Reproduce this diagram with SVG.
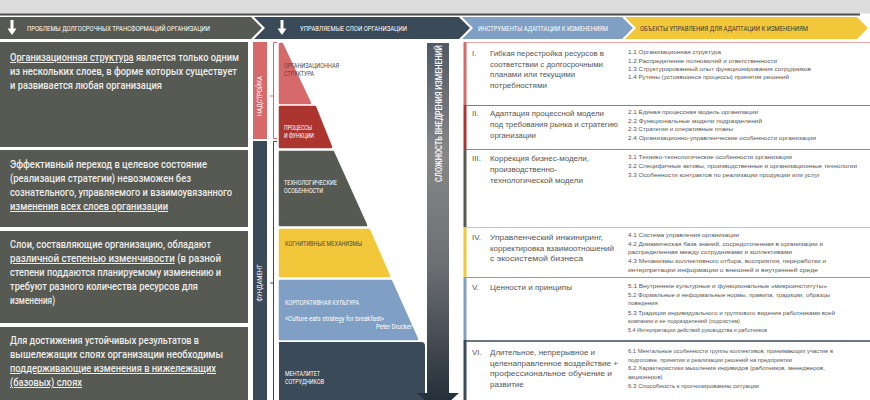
<svg xmlns="http://www.w3.org/2000/svg" xmlns:xlink="http://www.w3.org/1999/xlink" width="870" height="400" viewBox="0 0 870 400">
<defs>
<style>
.hd{font-family:Roboto,"Liberation Sans",sans-serif;font-size:7.5px;}
.lt{font-family:Roboto,"Liberation Sans",sans-serif;font-size:10px;fill:#ececec;font-weight:500;}
.u{text-decoration:underline;}
.py{font-family:Roboto,"Liberation Sans",sans-serif;font-size:6.5px;}
.rm{font-family:"Liberation Sans",Arial,sans-serif;font-size:8px;fill:#555;}
.rs{font-family:"Liberation Sans",Arial,sans-serif;font-size:6px;fill:#555;}
.vt{font-family:Roboto,"Liberation Sans",sans-serif;font-size:6.5px;fill:#fff;}
</style>
<path id="darr" d="M-1.5,-8 h3 v8.5 h3 l-4.5,6.5 l-4.5,-6.5 h3 z" fill="#fff"/>
<linearGradient id="cg" x1="0" y1="0" x2="0" y2="1">
<stop offset="0" stop-color="#4e5a66"/>
<stop offset="0.3" stop-color="#878787"/>
<stop offset="0.6" stop-color="#6c6f72"/>
<stop offset="1" stop-color="#1f2a35"/>
</linearGradient>
</defs>
<rect x="0" y="0" width="870" height="400" fill="#fff"/>
<rect x="0" y="0" width="870" height="13.5" fill="#dcdcdc"/>
<rect x="0" y="13.5" width="860" height="2" fill="#4a4a4a"/>

<g id="header">
<polygon points="0,17 251,17 262,28 251,39 0,39" fill="#575a52"/>
<polygon points="254,17 459,17 470,28 459,39 254,39 265,28" fill="#3a4a58"/>
<polygon points="462,17 622,17 633,28 622,39 462,39 473,28" fill="#7f9fc4"/>
<polygon points="625,17 857,17 868,28 857,39 625,39 636,28" fill="#f2c73a"/>
<use xlink:href="#darr" x="12" y="28"/>
<use xlink:href="#darr" x="282" y="28"/>
<text class="hd" x="27" y="30.5" fill="#fff" textLength="183" lengthAdjust="spacingAndGlyphs">ПРОБЛЕМЫ ДОЛГОСРОЧНЫХ ТРАНСФОРМАЦИЙ ОРГАНИЗАЦИИ</text>
<text class="hd" x="300" y="30.5" fill="#fff" textLength="107" lengthAdjust="spacingAndGlyphs">УПРАВЛЯЕМЫЕ СЛОИ ОРГАНИЗАЦИИ</text>
<text class="hd" x="478" y="30.5" fill="#fff" textLength="130" lengthAdjust="spacingAndGlyphs">ИНСТРУМЕНТЫ АДАПТАЦИИ К ИЗМЕНЕНИЯМ</text>
<text class="hd" x="640" y="30.5" fill="#3a3a3a" textLength="168" lengthAdjust="spacingAndGlyphs">ОБЪЕКТЫ УПРАВЛЕНИЯ ДЛЯ АДАПТАЦИИ К ИЗМЕНЕНИЯМ</text>
</g>

<g id="problem-1">
<rect x="0" y="42" width="248" height="105" fill="#575a52"/>
<text class="lt" x="10" y="61" textLength="229" lengthAdjust="spacingAndGlyphs"><tspan class="u">Организационная структура</tspan> является только одним</text>
<text class="lt" x="10" y="75" textLength="227" lengthAdjust="spacingAndGlyphs">из нескольких слоев, в форме которых существует</text>
<text class="lt" x="10" y="88.5" textLength="152" lengthAdjust="spacingAndGlyphs">и развивается любая организация</text>
</g>
<g id="problem-2">
<rect x="0" y="150" width="248" height="77" fill="#575a52"/>
<text class="lt" x="10" y="168" textLength="197" lengthAdjust="spacingAndGlyphs">Эффективный переход в целевое состояние</text>
<text class="lt" x="10" y="182" textLength="181" lengthAdjust="spacingAndGlyphs">(реализация стратегии) невозможен без</text>
<text class="lt" x="10" y="196" textLength="222" lengthAdjust="spacingAndGlyphs">сознательного, управляемого и взаимоувязанного</text>
<text class="lt u" x="10" y="210" textLength="158" lengthAdjust="spacingAndGlyphs">изменения всех слоев организации</text>
</g>
<g id="problem-3">
<rect x="0" y="231" width="248" height="92" fill="#575a52"/>
<text class="lt" x="10" y="248" textLength="201" lengthAdjust="spacingAndGlyphs">Слои, составляющие организацию, обладают</text>
<text class="lt" x="10" y="262" textLength="211" lengthAdjust="spacingAndGlyphs"><tspan class="u">различной степенью изменчивости</tspan> (в разной</text>
<text class="lt" x="10" y="276" textLength="211" lengthAdjust="spacingAndGlyphs">степени поддаются планируемому изменению и</text>
<text class="lt" x="10" y="290" textLength="188" lengthAdjust="spacingAndGlyphs">требуют разного количества ресурсов для</text>
<text class="lt" x="10" y="304" textLength="45" lengthAdjust="spacingAndGlyphs">изменения)</text>
</g>
<g id="problem-4">
<rect x="0" y="327" width="248" height="73" fill="#575a52"/>
<text class="lt" x="10" y="344" textLength="189" lengthAdjust="spacingAndGlyphs">Для достижения устойчивых результатов в</text>
<text class="lt" x="10" y="358" textLength="213" lengthAdjust="spacingAndGlyphs">вышележащих слоях организации необходимы</text>
<text class="lt u" x="10" y="372" textLength="206" lengthAdjust="spacingAndGlyphs">поддерживающие изменения в нижележащих</text>
<text class="lt u" x="10" y="386" textLength="72" lengthAdjust="spacingAndGlyphs">(базовых) слоях</text>
</g>

<g id="superstructure">
<rect x="253" y="42" width="14" height="97" fill="#d66a6a"/>
<text class="vt" transform="translate(262.3,116) rotate(-90)" textLength="40" lengthAdjust="spacingAndGlyphs">НАДСТРОЙКА</text>
<path d="M277,42.5 H273.5 V138.5 H277 M273.5,96 H270" fill="none" stroke="#d66a6a" stroke-width="1"/>
</g>
<g id="foundation">
<rect x="253" y="141" width="14" height="259" fill="#3a4a58"/>
<text class="vt" transform="translate(262.3,301.5) rotate(-90)" textLength="37" lengthAdjust="spacingAndGlyphs">ФУНДАМЕНТ</text>
<path d="M277,141.5 H273.5 V400 M273.5,283 H270" fill="none" stroke="#3a4a58" stroke-width="1"/>
</g>

<g id="layer-structure">
<polygon points="280,44 282,44 310,103 280,103" fill="#d66a6a" stroke="#d66a6a" stroke-width="2.5" stroke-linejoin="round"/>
<text class="py" fill="#4a4a4a" x="284" y="68" textLength="55" lengthAdjust="spacingAndGlyphs">ОРГАНИЗАЦИОННАЯ</text>
<text class="py" fill="#4a4a4a" x="284" y="76" textLength="30" lengthAdjust="spacingAndGlyphs">СТРУКТУРА</text>
</g>
<g id="layer-processes">
<polygon points="280,107 315,107 331,147 280,147" fill="#ad3530" stroke="#ad3530" stroke-width="2.5" stroke-linejoin="round"/>
<text class="py" fill="#fff" x="284" y="129.5" textLength="28" lengthAdjust="spacingAndGlyphs">ПРОЦЕССЫ</text>
<text class="py" fill="#fff" x="284" y="137.5" textLength="30" lengthAdjust="spacingAndGlyphs">И ФУНКЦИИ</text>
</g>
<g id="layer-technology">
<polygon points="280,152 333,152 366,225 280,225" fill="#575a52" stroke="#575a52" stroke-width="2.5" stroke-linejoin="round"/>
<text class="py" fill="#fff" x="284" y="184.5" textLength="53" lengthAdjust="spacingAndGlyphs">ТЕХНОЛОГИЧЕСКИЕ</text>
<text class="py" fill="#fff" x="284" y="192.5" textLength="39" lengthAdjust="spacingAndGlyphs">ОСОБЕННОСТИ</text>
</g>
<g id="layer-cognitive">
<polygon points="280,230 369,230 389,276 280,276" fill="#f2c73a" stroke="#f2c73a" stroke-width="2.5" stroke-linejoin="round"/>
<text class="py" fill="#4a4a4a" x="285" y="245.5" textLength="77" lengthAdjust="spacingAndGlyphs">КОГНИТИВНЫЕ МЕХАНИЗМЫ</text>
</g>
<g id="layer-culture">
<polygon points="280,281 391,281 417,339 280,339" fill="#7f9fc4" stroke="#7f9fc4" stroke-width="2.5" stroke-linejoin="round"/>
<text class="py" fill="#fff" x="285" y="304.5" textLength="74" lengthAdjust="spacingAndGlyphs">КОРПОРАТИВНАЯ КУЛЬТУРА</text>
<text class="py" fill="#fff" x="285" y="320.5" textLength="99" lengthAdjust="spacingAndGlyphs">«Culture eats strategy for breakfast»</text>
<text class="py" fill="#fff" x="376" y="328.5" textLength="36" lengthAdjust="spacingAndGlyphs">Peter Drucker</text>
</g>
<g id="layer-mentality">
<path d="M279,342 H421 Q425,342 425,346 V400 H279 Z" fill="#3a4a58"/>
<text class="py" fill="#fff" x="285" y="375.5" textLength="35" lengthAdjust="spacingAndGlyphs">МЕНТАЛИТЕТ</text>
<text class="py" fill="#fff" x="285" y="384" textLength="39" lengthAdjust="spacingAndGlyphs">СОТРУДНИКОВ</text>
</g>

<g id="complexity-arrow">
<path d="M427,43 H449 V393 H459 L438,412 L417,393 H427 Z" fill="url(#cg)"/>
<text transform="translate(441.5,182) rotate(-90)" font-family="Roboto, 'Liberation Sans', sans-serif" font-size="9" font-weight="500" fill="#fff" textLength="137" lengthAdjust="spacingAndGlyphs">СЛОЖНОСТЬ ВНЕДРЕНИЯ ИЗМЕНЕНИЙ</text>
</g>

<g id="row-1">
<line x1="464" y1="42.5" x2="870" y2="42.5" stroke="#e9a5a5" stroke-width="1"/>
<rect x="463.5" y="42" width="3" height="63" fill="#d66a6a"/>
<text class="rm" x="472" y="56" fill="#d66a6a">I.</text>
<text class="rm" x="490" y="56" textLength="114" lengthAdjust="spacingAndGlyphs">Гибкая перестройка ресурсов в</text>
<text class="rm" x="490" y="66.5" textLength="113" lengthAdjust="spacingAndGlyphs">соответствии с долгосрочными</text>
<text class="rm" x="490" y="77" textLength="85" lengthAdjust="spacingAndGlyphs">планами или текущими</text>
<text class="rm" x="490" y="87.5" textLength="57" lengthAdjust="spacingAndGlyphs">потребностями</text>
<text class="rs" x="628" y="54" textLength="93" lengthAdjust="spacingAndGlyphs">1.1 Организационная структура</text>
<text class="rs" x="628" y="63" textLength="149" lengthAdjust="spacingAndGlyphs">1.2 Распределение полномочий и ответственности</text>
<text class="rs" x="628" y="71" textLength="183" lengthAdjust="spacingAndGlyphs">1.3 Структурированный опыт функционирования сотрудников</text>
<text class="rs" x="628" y="79" textLength="161" lengthAdjust="spacingAndGlyphs">1.4 Рутины (устоявшиеся процессы) принятия решений</text>
</g>
<g id="row-2">
<line x1="464" y1="105.5" x2="870" y2="105.5" stroke="#c6625d" stroke-width="1"/>
<rect x="463.5" y="105" width="3" height="44" fill="#ad3530"/>
<text class="rm" x="472" y="116" fill="#c04a44">II.</text>
<text class="rm" x="490" y="116" textLength="114" lengthAdjust="spacingAndGlyphs">Адаптация процессной модели</text>
<text class="rm" x="490" y="127" textLength="128" lengthAdjust="spacingAndGlyphs">под требования рынка и стратегию</text>
<text class="rm" x="490" y="137.5" textLength="46" lengthAdjust="spacingAndGlyphs">организации</text>
<text class="rs" x="628" y="114" textLength="130" lengthAdjust="spacingAndGlyphs">2.1 Единая процессная модель организации</text>
<text class="rs" x="628" y="122.5" textLength="134" lengthAdjust="spacingAndGlyphs">2.2 Функциональные модели подразделений</text>
<text class="rs" x="628" y="131" textLength="105" lengthAdjust="spacingAndGlyphs">2.3 Стратегии и оперативные планы</text>
<text class="rs" x="628" y="139.5" textLength="188" lengthAdjust="spacingAndGlyphs">2.4 Организационно-управленческие особенности организации</text>
</g>
<g id="row-3">
<line x1="464" y1="149.5" x2="870" y2="149.5" stroke="#8a8c86" stroke-width="1"/>
<rect x="463.5" y="149" width="3" height="78" fill="#575a52"/>
<text class="rm" x="472" y="161" fill="#8a8a8a">III.</text>
<text class="rm" x="490" y="161" textLength="99" lengthAdjust="spacingAndGlyphs">Коррекция бизнес-модели,</text>
<text class="rm" x="490" y="172" textLength="67" lengthAdjust="spacingAndGlyphs">производственно-</text>
<text class="rm" x="490" y="183" textLength="93" lengthAdjust="spacingAndGlyphs">технологической модели</text>
<text class="rs" x="628" y="159" textLength="164" lengthAdjust="spacingAndGlyphs">3.1 Технико-технологические особенности организации</text>
<text class="rs" x="628" y="168" textLength="229" lengthAdjust="spacingAndGlyphs">3.2 Специфичные активы, производственные и организационные технологии</text>
<text class="rs" x="628" y="177" textLength="192" lengthAdjust="spacingAndGlyphs">3.3 Особенности контрактов по реализации продукции или услуг</text>
</g>
<g id="row-4">
<line x1="464" y1="227.5" x2="870" y2="227.5" stroke="#f2c73a" stroke-width="1"/>
<rect x="463.5" y="227" width="3" height="50" fill="#f2c73a"/>
<text class="rm" x="472" y="240" fill="#f2c73a">IV.</text>
<text class="rm" x="490" y="240" textLength="113" lengthAdjust="spacingAndGlyphs">Управленческий инжиниринг,</text>
<text class="rm" x="490" y="250.5" textLength="124" lengthAdjust="spacingAndGlyphs">корректировка взаимоотношений</text>
<text class="rm" x="490" y="261" textLength="93" lengthAdjust="spacingAndGlyphs">с экосистемой бизнеса</text>
<text class="rs" x="628" y="237" textLength="111" lengthAdjust="spacingAndGlyphs">4.1 Система управления организации</text>
<text class="rs" x="628" y="245.5" textLength="195" lengthAdjust="spacingAndGlyphs">4.2 Динамическая база знаний, сосредоточенная в организации и</text>
<text class="rs" x="628" y="254" textLength="164" lengthAdjust="spacingAndGlyphs">распределенная между сотрудниками и коллективами</text>
<text class="rs" x="628" y="263" textLength="198" lengthAdjust="spacingAndGlyphs">4.3 Механизмы коллективного отбора, восприятия, переработки и</text>
<text class="rs" x="628" y="271.5" textLength="190" lengthAdjust="spacingAndGlyphs">интерпретации информации о внешней и внутренней среде</text>
</g>
<g id="row-5">
<line x1="464" y1="277.5" x2="870" y2="277.5" stroke="#7f9fc4" stroke-width="1"/>
<rect x="463.5" y="277" width="3" height="63" fill="#7f9fc4"/>
<text class="rm" x="472" y="290" fill="#7f9fc4">V.</text>
<text class="rm" x="490" y="290" textLength="82" lengthAdjust="spacingAndGlyphs">Ценности и принципы</text>
<text class="rs" x="628" y="288" textLength="199" lengthAdjust="spacingAndGlyphs">5.1 Внутренние культурные и функциональные «микроинституты»</text>
<text class="rs" x="628" y="297" textLength="202" lengthAdjust="spacingAndGlyphs">5.2 Формальные и неформальные нормы, правила, традиции, образцы</text>
<text class="rs" x="628" y="305">поведения</text>
<text class="rs" x="628" y="315" textLength="207" lengthAdjust="spacingAndGlyphs">5.3 Традиции индивидуального и группового видения работниками всей</text>
<text class="rs" x="628" y="323" textLength="112" lengthAdjust="spacingAndGlyphs">компании и ее подразделений (подсистем)</text>
<text class="rs" x="628" y="331.5" textLength="139" lengthAdjust="spacingAndGlyphs">5.4 Интерпретации действий руководства и работников</text>
</g>
<g id="row-6">
<line x1="464" y1="341" x2="870" y2="341" stroke="#3a4a58" stroke-width="1.5"/>
<rect x="463.5" y="340" width="3" height="60" fill="#3a4a58"/>
<text class="rm" x="472" y="355" fill="#6a7580">VI.</text>
<text class="rm" x="490" y="355" textLength="105" lengthAdjust="spacingAndGlyphs">Длительное, непрерывное и</text>
<text class="rm" x="490" y="365.5" textLength="128" lengthAdjust="spacingAndGlyphs">целенаправленное воздействие +</text>
<text class="rm" x="490" y="376" textLength="122" lengthAdjust="spacingAndGlyphs">профессиональное обучение и</text>
<text class="rm" x="490" y="386.5">развитие</text>
<text class="rs" x="628" y="353" textLength="205" lengthAdjust="spacingAndGlyphs">6.1 Ментальные особенности группы коллективов, принимающих участие в</text>
<text class="rs" x="628" y="362" textLength="164" lengthAdjust="spacingAndGlyphs">подготовке, принятии и реализации решений на предприятии</text>
<text class="rs" x="628" y="370" textLength="197" lengthAdjust="spacingAndGlyphs">6.2 Характеристики мышления индивидов (работников, менеджеров,</text>
<text class="rs" x="628" y="379">акционеров)</text>
<text class="rs" x="628" y="387.5" textLength="131" lengthAdjust="spacingAndGlyphs">6.3 Способность к прогнозированию ситуации</text>
</g>
</svg>
